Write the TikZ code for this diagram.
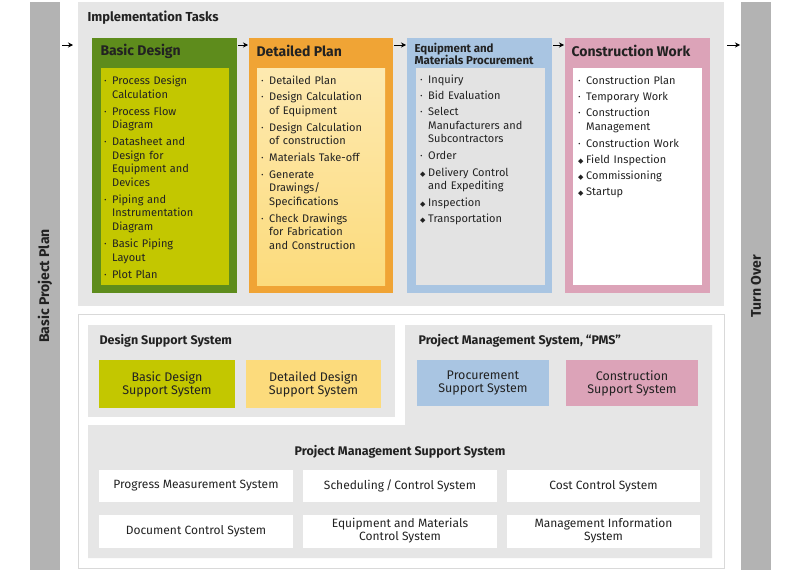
\documentclass[tikz,border=0pt]{standalone}
\usepackage{fontspec}
\setmainfont{Fira Sans}
\newfontfamily\djf{DejaVu Sans}
\usetikzlibrary{arrows.meta}
\definecolor{panelgray}{HTML}{E6E6E6}
\definecolor{bargray}{HTML}{B3B3B3}
\definecolor{dgreen}{HTML}{5E8C1C}
\definecolor{lime}{HTML}{C3C700}
\definecolor{orng}{HTML}{F0A435}
\definecolor{lyel}{HTML}{FCDB7C}
\definecolor{lblue}{HTML}{A9C5E2}
\definecolor{igray}{HTML}{E3E3E3}
\definecolor{pnk}{HTML}{DCA3B8}
\definecolor{txt}{HTML}{222222}
\newcommand{\bl}{\makebox[8pt][l]{·}}
\newcommand{\dm}{\makebox[8pt][l]{\djf\scriptsize ◆}}
\newcommand{\itm}[2]{\noindent#1\begin{tabular}[t]{@{}l@{}}#2\end{tabular}\par\vspace{2.6pt}}
\begin{document}
\begin{tikzpicture}[x=1pt,y=-1pt,every node/.style={text=txt},
  ttl/.style={font=\bfseries\fontsize{14}{16}\selectfont,anchor=west},
  hdr/.style={font=\fontsize{13}{15}\selectfont\bfseries,anchor=west},
  lst/.style={anchor=north west,inner sep=0pt,text width=125pt,align=left,font=\fontsize{11}{13.5}\selectfont},
  sbox/.style={draw=none,align=center,font=\fontsize{12.5}{13}\selectfont,inner sep=0pt},
  wbox/.style={fill=white,draw=none,align=center,font=\fontsize{12}{13}\selectfont,inner sep=0pt},
  arr/.style={-{Stealth[length=5pt,width=5pt]},line width=0.8pt}]
\useasboundingbox (0,0) rectangle (800,573);
% side bars
\fill[bargray] (30,2) rectangle (60,570);
\node[rotate=90,font=\bfseries\fontsize{14}{16}\selectfont] (bpp) at (45,286) {Basic Project Plan};
\fill[bargray] (741,2) rectangle (771,570);
\node[rotate=90,font=\bfseries\fontsize{14}{16}\selectfont] (to) at (756,286) {Turn Over};
% top panel
\fill[panelgray] (78,2) rectangle (724,306);
\node[hdr] (it) at (84,18) {Implementation Tasks};
% columns
\fill[dgreen] (92,38) rectangle (237,293);
\fill[lime] (101,68) rectangle (229,285);
\node[ttl] (bd) at (97,51) {Basic Design};
\fill[orng] (249,38) rectangle (393,293);
\shade[top color=lyel!60!white,bottom color=lyel] (257,68) rectangle (385,285);
\node[ttl] (dp) at (253,51) {Detailed Plan};
\fill[lblue] (407,38) rectangle (552,293);
\fill[igray] (416,68) rectangle (545,285);
\node[hdr,align=left,font=\bfseries\fontsize{11.5}{12.5}\selectfont] (em) at (411,54) {Equipment and\\Materials Procurement};
\fill[pnk] (565,38) rectangle (710,293);
\fill[white] (573,68) rectangle (702,285);
\node[ttl] (cw) at (568,51) {Construction Work};
% lists
\node[lst] (l1) at (104,75) {%
\itm{\bl}{Process Design\\Calculation}
\itm{\bl}{Process Flow\\Diagram}
\itm{\bl}{Datasheet and\\Design for\\Equipment and\\Devices}
\itm{\bl}{Piping and\\Instrumentation\\Diagram}
\itm{\bl}{Basic Piping\\Layout}
\itm{\bl}{Plot Plan}};
\node[lst] (l2) at (261,75) {%
\itm{\bl}{Detailed Plan}
\itm{\bl}{Design Calculation\\of Equipment}
\itm{\bl}{Design Calculation\\of construction}
\itm{\bl}{Materials Take-off}
\itm{\bl}{Generate\\Drawings/\\Specifications}
\itm{\bl}{Check Drawings\\for Fabrication\\and Construction}};
\node[lst] (l3) at (420,74) {%
\itm{\bl}{Inquiry}
\itm{\bl}{Bid Evaluation}
\itm{\bl}{Select\\Manufacturers and\\Subcontractors}
\itm{\bl}{Order}
\itm{\dm}{Delivery Control\\and Expediting}
\itm{\dm}{Inspection}
\itm{\dm}{Transportation}};
\node[lst] (l4) at (578,75) {%
\itm{\bl}{Construction Plan}
\itm{\bl}{Temporary Work}
\itm{\bl}{Construction\\Management}
\itm{\bl}{Construction Work}
\itm{\dm}{Field Inspection}
\itm{\dm}{Commissioning}
\itm{\dm}{Startup}};
% arrows
\coordinate (a0) at (62,45); \coordinate (a0e) at (73,45);
\draw[arr] (a0) -- (a0e);
\coordinate (a1) at (238,45); \coordinate (a1e) at (248,45);
\draw[arr] (a1) -- (a1e);
\coordinate (a2) at (394,45); \coordinate (a2e) at (406,45);
\draw[arr] (a2) -- (a2e);
\coordinate (a3) at (553,45); \coordinate (a3e) at (564,45);
\draw[arr] (a3) -- (a3e);
\coordinate (a4) at (727,45); \coordinate (a4e) at (740,45);
\draw[arr] (a4) -- (a4e);
% bottom region
\draw[draw=black!15,fill=white,line width=1pt] (78,314) rectangle (724,568);
\fill[panelgray] (88,325) rectangle (395,417);
\fill[panelgray] (405,325) -- (712,325) -- (712,558) -- (88,558) -- (88,425) -- (405,425) -- cycle;
\node[hdr,font=\bfseries\fontsize{12.5}{14}\selectfont] (dss) at (96,341) {Design Support System};
\node[hdr,font=\bfseries\fontsize{12.5}{14}\selectfont] (pms) at (415,341) {Project Management System, “PMS”};
\node[sbox,fill=lime,minimum width=136pt,minimum height=48pt] (b1) at (167,384) {Basic Design\\Support System};
\node[sbox,fill=lyel,minimum width=135pt,minimum height=48pt] (b2) at (313.5,384) {Detailed Design\\Support System};
\node[sbox,fill=lblue,minimum width=132pt,minimum height=46pt] (b3) at (483,383) {Procurement\\Support System};
\node[sbox,fill=pnk,minimum width=132pt,minimum height=46pt] (b4) at (632,383) {Construction\\Support System};
\node[font=\bfseries\fontsize{12.5}{14}\selectfont] (pmss) at (400,452) {Project Management Support System};
\node[wbox,minimum width=194pt,minimum height=32pt] (w1) at (196,486) {Progress Measurement System};
\node[wbox,minimum width=194pt,minimum height=32pt] (w2) at (400,486) {Scheduling\,/\,Control System};
\node[wbox,minimum width=193pt,minimum height=32pt] (w3) at (603.5,486) {Cost Control System};
\node[wbox,minimum width=194pt,minimum height=33pt] (w4) at (196,531) {Document Control System};
\node[wbox,minimum width=194pt,minimum height=33pt] (w5) at (400,531) {Equipment and Materials\\Control System};
\node[wbox,minimum width=193pt,minimum height=33pt] (w6) at (603.5,531) {Management Information\\System};
\end{tikzpicture}
\end{document}
